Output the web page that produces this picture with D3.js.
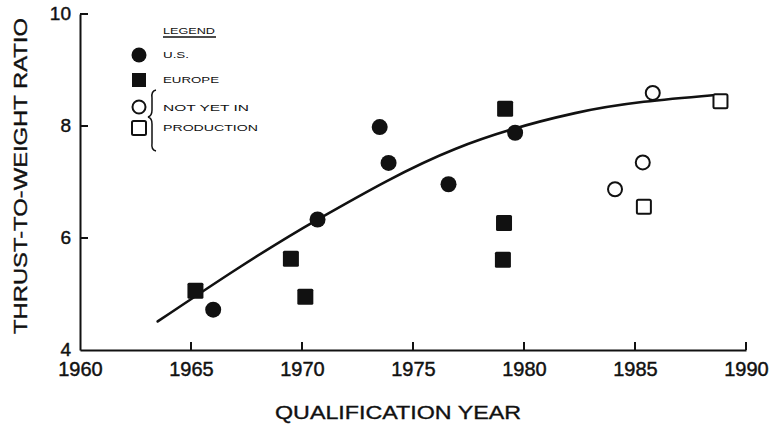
<!DOCTYPE html>
<html>
<head>
<meta charset="utf-8">
<script src="https://cdn.jsdelivr.net/npm/d3@7"></script>
<style>
  html, body { margin: 0; padding: 0; background: #fff; }
  svg text { font-family: "Liberation Sans", Arial, Helvetica, sans-serif; fill: #111; }
</style>
</head>
<body>
<svg id="chart" width="771" height="431"></svg>
<script>
// Engine thrust-to-weight ratio by qualification year
const usYears = [1966.0, 1970.7, 1973.5, 1973.9, 1976.6, 1979.6];
const usRatios = [4.72, 6.33, 7.98, 7.34, 6.96, 7.88];

const europeYears = [1965.2, 1969.5, 1970.15, 1979.15, 1979.1, 1979.05];
const europeRatios = [5.06, 5.63, 4.95, 8.31, 6.27, 5.61];

const plannedCircleYears = [1984.1, 1985.35, 1985.8];
const plannedCircleRatios = [6.87, 7.35, 8.59];

const plannedSquareYears = [1985.4, 1988.85];
const plannedSquareRatios = [6.56, 8.44];

// Hand-faired trend curve
const trendYears = [1963.5, 1970.7, 1976.9, 1982.3, 1988.5];
const trendRatios = [4.51, 6.33, 7.59, 8.23, 8.55];

const xTicks = [1960, 1965, 1970, 1975, 1980, 1985, 1990];
const yTicks = [4, 6, 8, 10];

const legendTitle = "LEGEND";
const legendLabels = ["U.S.", "EUROPE", "NOT YET IN", "PRODUCTION"];
const xTitle = "QUALIFICATION YEAR";
const yTitle = "THRUST-TO-WEIGHT RATIO";

const svg = d3.select("#chart");
const ink = "#111";

const x = d3.scaleLinear().domain([1960, 1990]).range([80, 746]);
const y = d3.scaleLinear().domain([4, 10]).range([350, 14]);

// Axes (labels from d3-axis, inward tick marks drawn below)
const xAxis = svg.append("g")
  .attr("transform", `translate(0,${y(4)})`)
  .call(d3.axisBottom(x).tickValues(xTicks).tickFormat(d3.format("d"))
    .tickSize(0).tickPadding(12));
const yAxis = svg.append("g")
  .attr("transform", `translate(${x(1960)},0)`)
  .call(d3.axisLeft(y).tickValues(yTicks).tickFormat(d3.format("d"))
    .tickSize(0).tickPadding(9));

[xAxis, yAxis].forEach(g => {
  g.select(".domain").attr("stroke", ink).attr("stroke-width", 2);
  g.selectAll(".tick line").remove();
  g.selectAll(".tick text").attr("fill", ink)
    .attr("stroke", ink).attr("stroke-width", 0.45)
    .style("font-family", '"Liberation Sans", Arial, sans-serif');
});
xAxis.selectAll(".tick text").attr("font-size", 20);
yAxis.selectAll(".tick text").attr("font-size", 19).attr("dy", "0.28em");

// Inward tick marks
svg.append("g").selectAll("line")
  .data(xTicks.filter(t => t !== 1960)).join("line")
  .attr("x1", d => x(d)).attr("x2", d => x(d))
  .attr("y1", y(4)).attr("y2", y(4) - 8)
  .attr("stroke", ink).attr("stroke-width", 2);
svg.append("g").selectAll("line")
  .data(yTicks.filter(t => t !== 4)).join("line")
  .attr("x1", x(1960)).attr("x2", x(1960) + 8)
  .attr("y1", d => y(d)).attr("y2", d => y(d))
  .attr("stroke", ink).attr("stroke-width", 2);

// Axis titles
svg.append("text")
  .attr("x", 398).attr("y", 419)
  .attr("text-anchor", "middle")
  .attr("font-size", 19)
  .attr("stroke", ink).attr("stroke-width", 0.35)
  .attr("textLength", 246).attr("lengthAdjust", "spacingAndGlyphs")
  .text(xTitle);

svg.append("text")
  .attr("transform", "translate(27,176) rotate(-90)")
  .attr("text-anchor", "middle")
  .attr("font-size", 19)
  .attr("stroke", ink).attr("stroke-width", 0.35)
  .attr("textLength", 316).attr("lengthAdjust", "spacingAndGlyphs")
  .text(yTitle);

// Trend curve
const trend = trendYears.map((t, i) => [t, trendRatios[i]]);
svg.append("path")
  .datum(trend)
  .attr("fill", "none")
  .attr("stroke", ink)
  .attr("stroke-width", 2.6)
  .attr("stroke-linecap", "round")
  .attr("d", d3.line().x(d => x(d[0])).y(d => y(d[1])).curve(d3.curveMonotoneX));

// Markers
function drawMarkers(years, ratios, filled, shape) {
  const pts = years.map((t, i) => [t, ratios[i]]);
  const g = svg.append("g");
  if (shape === "circle") {
    g.selectAll("circle").data(pts).join("circle")
      .attr("cx", d => x(d[0])).attr("cy", d => y(d[1]))
      .attr("r", filled ? 8 : 7)
      .attr("fill", filled ? ink : "#fff")
      .attr("stroke", ink).attr("stroke-width", filled ? 0 : 2);
  } else {
    const s = filled ? 16 : 14;
    g.selectAll("rect").data(pts).join("rect")
      .attr("x", d => x(d[0]) - s / 2).attr("y", d => y(d[1]) - s / 2)
      .attr("width", s).attr("height", s).attr("rx", 1.5)
      .attr("fill", filled ? ink : "#fff")
      .attr("stroke", ink).attr("stroke-width", filled ? 0 : 2);
  }
}
drawMarkers(europeYears, europeRatios, true, "square");
drawMarkers(usYears, usRatios, true, "circle");
drawMarkers(plannedCircleYears, plannedCircleRatios, false, "circle");
drawMarkers(plannedSquareYears, plannedSquareRatios, false, "square");

// Legend
const lg = svg.append("g").attr("transform", "translate(139,0)");
lg.append("text").attr("x", 24).attr("y", 34).attr("font-size", 9)
  .attr("textLength", 52).attr("lengthAdjust", "spacingAndGlyphs").text(legendTitle);
lg.append("line").attr("x1", 24).attr("x2", 77).attr("y1", 37).attr("y2", 37)
  .attr("stroke", ink).attr("stroke-width", 1.4);

lg.append("circle").attr("cx", 0).attr("cy", 55).attr("r", 7.5).attr("fill", ink);
lg.append("rect").attr("x", -7).attr("y", 73).attr("width", 14).attr("height", 14).attr("fill", ink);
lg.append("circle").attr("cx", 0).attr("cy", 107).attr("r", 6.5)
  .attr("fill", "#fff").attr("stroke", ink).attr("stroke-width", 2);
lg.append("rect").attr("x", -7).attr("y", 121).attr("width", 14).attr("height", 14).attr("rx", 1.5)
  .attr("fill", "#fff").attr("stroke", ink).attr("stroke-width", 2);

// grouping brace for the not-yet-in-production symbols
lg.append("path")
  .attr("d", "M17,90 Q12,91 13,98 L13,110 Q13,116 9,117 Q13,118 13,124 L13,143 Q12,150 17,151")
  .attr("fill", "none").attr("stroke", ink).attr("stroke-width", 1.5);

const labelY = [58, 83, 111, 131];
const labelW = [26, 56, 86, 95];
lg.selectAll("text.item").data(legendLabels).join("text")
  .attr("class", "item")
  .attr("x", 24).attr("y", (d, i) => labelY[i])
  .attr("font-size", 9)
  .attr("textLength", (d, i) => labelW[i]).attr("lengthAdjust", "spacingAndGlyphs")
  .text(d => d);
</script>
</body>
</html>
